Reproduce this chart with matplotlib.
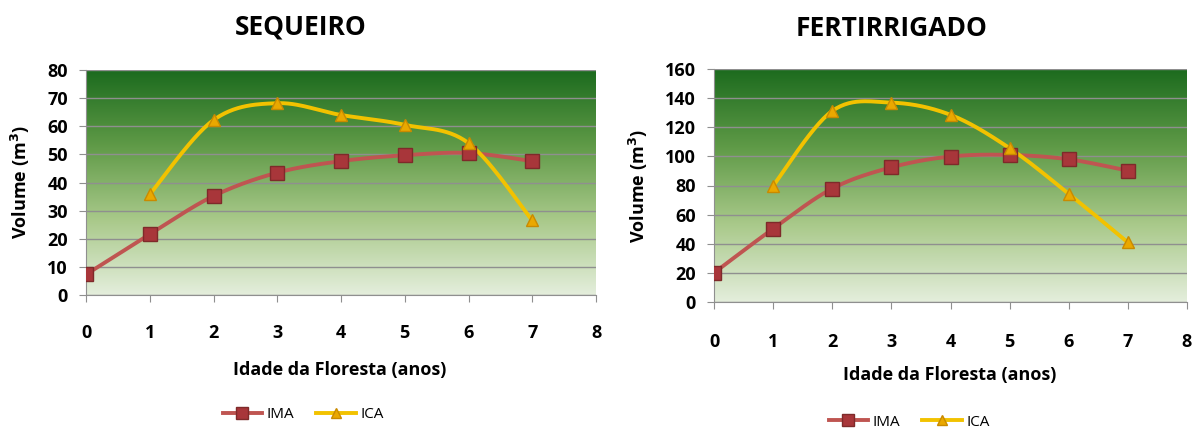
import numpy as np
import matplotlib
matplotlib.use("Agg")
import matplotlib.pyplot as plt
from matplotlib.colors import LinearSegmentedColormap
from matplotlib.lines import Line2D

plt.rcParams['font.family'] = ['Open Sans', 'DejaVu Sans']

# dados
idade_ima = [0, 1, 2, 3, 4, 5, 6, 7]
idade_ica = [1, 2, 3, 4, 5, 6, 7]

seq_ima = [7.3, 21.6, 35.2, 43.5, 47.6, 49.7, 50.5, 47.6]
seq_ica = [35.8, 62.2, 68.2, 64.0, 60.5, 54.0, 26.5]

fert_ima = [20, 50.3, 77.9, 92.5, 99.9, 101, 98, 90.2]
fert_ica = [79.8, 131.2, 136.9, 128.5, 105.6, 74.3, 40.9]

titulos = ["SEQUEIRO", "FERTIRRIGADO"]
xlabel = "Idade da Floresta (anos)"
ylabel = "Volume (m$\\mathbf{^3}$)"

cor_ima = "#bf5551"
cor_ica = "#f2c200"

fundo = LinearSegmentedColormap.from_list(
    "fundo", ["#e4eedc", "#a9c98a", "#5f9a47", "#1c6b1e"])

W, H = 1194, 430


def suavizar(x, y, n=30):
    # curva suavizada tipo Excel (bezier cúbica)
    p = np.column_stack([x, y]).astype(float)
    pts = np.vstack([p[0], p, p[-1]])
    out = []
    for i in range(1, len(pts) - 2):
        p0, p1, p2, p3 = pts[i - 1], pts[i], pts[i + 1], pts[i + 2]
        c1 = p1 + (p2 - p0) / 6
        c2 = p2 - (p3 - p1) / 6
        t = np.linspace(0, 1, n)[:, None]
        seg = ((1 - t) ** 3) * p1 + 3 * ((1 - t) ** 2) * t * c1 \
            + 3 * (1 - t) * t ** 2 * c2 + t ** 3 * p2
        out.append(seg)
    c = np.vstack(out)
    return c[:, 0], c[:, 1]


fig = plt.figure(figsize=(W / 100, H / 100), dpi=100)

# posições em pixels: esquerda, direita, topo, base
config = [
    dict(px=(86, 596, 70, 295), ima=seq_ima, ica=seq_ica, ymax=80, ystep=10,
         title=(301, 27), xl=(340, 370), yl=(20, 182), leg=(303, 415), pad=16),
    dict(px=(714, 1187, 69, 302), ima=fert_ima, ica=fert_ica, ymax=160, ystep=20,
         title=(892, 28), xl=(950, 375), yl=(638, 186), leg=(909, 422), pad=17),
]


def fx(x):
    return x / W


def fy(y):
    return 1 - y / H


for k, c in enumerate(config):
    l, r, t, b = c["px"]
    ax = fig.add_axes([fx(l), fy(b), fx(r - l), (b - t) / H])
    ax.set_xlim(0, 8)
    ax.set_ylim(0, c["ymax"])

    grad = np.linspace(0, 1, 256).reshape(-1, 1)
    ax.imshow(grad, cmap=fundo, origin="lower", aspect="auto",
              extent=[0, 1, 0, 1], transform=ax.transAxes, zorder=0)

    ax.set_yticks(np.arange(0, c["ymax"] + 1, c["ystep"]))
    ax.set_xticks(range(0, 9))
    ax.yaxis.grid(True, color="#8f8f8f", linewidth=1.0, zorder=1)
    ax.set_axisbelow(False)

    xs, ys = suavizar(idade_ima, c["ima"])
    ax.plot(xs, ys, color=cor_ima, linewidth=2.8, zorder=3)
    ax.plot(idade_ima, c["ima"], linestyle="none", marker="s", markersize=9.5,
            markerfacecolor="#a8363a", markeredgecolor="#7e2a2a", zorder=4)

    xs, ys = suavizar(idade_ica, c["ica"])
    ax.plot(xs, ys, color=cor_ica, linewidth=2.8, zorder=3)
    ax.plot(idade_ica, c["ica"], linestyle="none", marker="^", markersize=9,
            markerfacecolor="#eaa800", markeredgecolor="#c98a00", zorder=5)

    for s in ["top", "right"]:
        ax.spines[s].set_visible(False)
    for s in ["left", "bottom"]:
        ax.spines[s].set_color("#8f8f8f")
    ax.tick_params(axis="both", colors="#8f8f8f", length=5, labelcolor="black",
                   labelsize=13)
    ax.tick_params(axis="x", pad=c["pad"])
    ax.tick_params(axis="y", pad=8)
    for lab in ax.get_xticklabels() + ax.get_yticklabels():
        lab.set_fontweight("bold")

    fig.text(fx(c["xl"][0]), fy(c["xl"][1]), xlabel, ha="center", va="center",
             fontsize=13, fontweight="bold")
    fig.text(fx(c["yl"][0]), fy(c["yl"][1]), ylabel, ha="center", va="center",
             rotation=90, fontsize=13, fontweight="bold")
    fig.text(fx(c["title"][0]), fy(c["title"][1]), titulos[k],
             ha="center", va="center", fontsize=19, fontweight="bold")

    handles = [
        Line2D([], [], color=cor_ima, linewidth=2.8, marker="s", markersize=8,
               markerfacecolor="#a8363a", markeredgecolor="#7e2a2a"),
        Line2D([], [], color=cor_ica, linewidth=2.8, marker="^", markersize=7,
               markerfacecolor="#eaa800", markeredgecolor="#c98a00"),
    ]
    fig.legend(handles, ["IMA", "ICA"], loc="center",
               bbox_to_anchor=(fx(c["leg"][0]), fy(c["leg"][1])), ncol=2,
               frameon=False, fontsize=11, handlelength=2.6,
               columnspacing=1.4, handletextpad=0.3)

fig.savefig("out.png", dpi=100)
